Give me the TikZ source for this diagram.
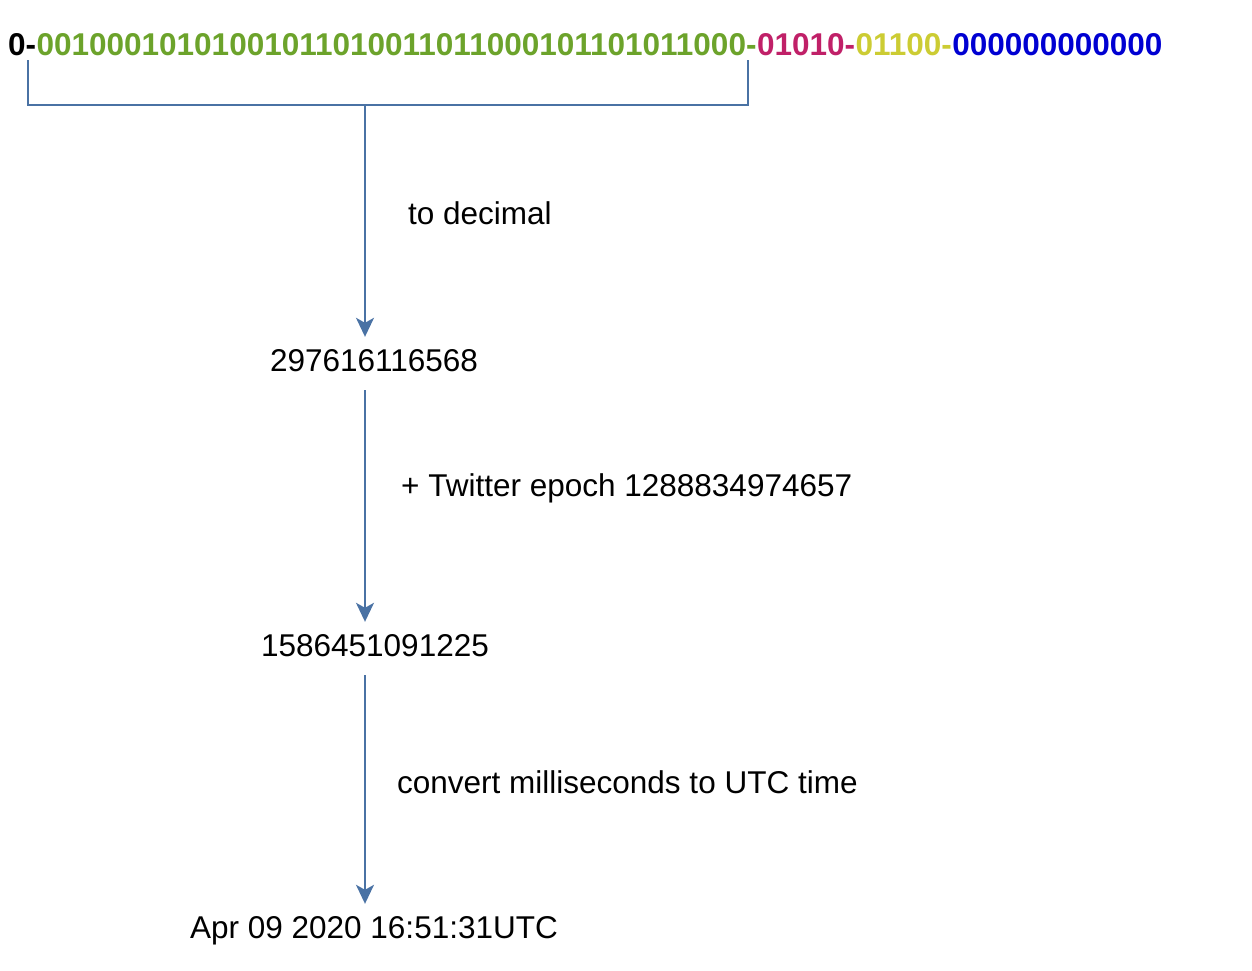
\documentclass[tikz,border=0pt]{standalone}
\usepackage{fontspec}
\setmainfont{Liberation Sans}
\usetikzlibrary{arrows.meta,positioning}
\definecolor{bitgreen}{RGB}{108,163,43}
\definecolor{bitpink}{RGB}{192,32,104}
\definecolor{bityellow}{RGB}{204,204,51}
\definecolor{bitblue}{RGB}{0,0,210}
\definecolor{linkblue}{RGB}{74,114,164}

\begin{document}
\begin{tikzpicture}[x=1pt, y=-1pt,
    txt/.style={font=\fontsize{31.5}{37}\selectfont, inner sep=0pt},
    bits/.style={txt, font=\fontsize{31.5}{37}\selectfont\bfseries, anchor=base west},
    val/.style={txt, anchor=base, text height=22pt, text depth=7pt, inner ysep=12pt},
    note/.style={txt, anchor=base west},
    link/.style={draw=linkblue, line width=1.9pt},
    flow/.style={link, -{Stealth[length=19pt, width=18pt, inset=5pt]}}]
    \useasboundingbox (0,0) rectangle (1252,970);

    % the id, split in its parts
    \node[bits] (sign) at (8,55) {0-};
    \node[bits, text=bitgreen] (stamp) at (sign.base east) {00100010101001011010011011000101101011000-};
    \node[bits, text=bitpink] (dc) at (stamp.base east) {01010-};
    \node[bits, text=bityellow] (mach) at (dc.base east) {01100-};
    \node[bits, text=bitblue] (seq) at (mach.base east) {000000000000};

    % bracket under the timestamp bits
    \coordinate (brl) at (28,60);
    \coordinate (brr) at (748,60);
    \coordinate (brm) at (365,105);
    \draw[link] (brl) |- (brm) -| (brr);

    \node[val] (dec) at (374,371) {297616116568};
    \node[val] (ms) at (375,656) {1586451091225};
    \node[val] (utc) at (374,938) {Apr 09 2020 16:51:31UTC};

    \draw[flow] (brm) -- (brm |- dec.north);
    \draw[flow] (brm |- dec.south) -- (brm |- ms.north);
    \draw[flow] (brm |- ms.south) -- (brm |- utc.north);

    \node[note] (todec) at (408,224) {to decimal};
    \node[note] (epoch) at (401,496) {+ Twitter epoch 1288834974657};
    \node[note] (conv) at (397,793) {convert milliseconds to UTC time};
\end{tikzpicture}
\end{document}
